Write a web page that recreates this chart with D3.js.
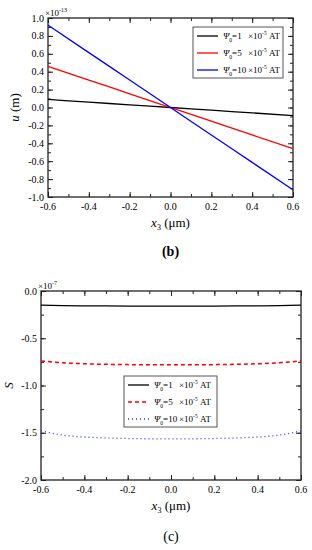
<!DOCTYPE html>
<html>
<head>
<meta charset="utf-8">
<script src="https://cdn.jsdelivr.net/npm/d3@7"></script>
<style>
  body { margin: 0; background: #fff; }
  text { font-family: "Liberation Serif", "Times New Roman", serif; fill: #000; }
</style>
</head>
<body>
<script>
var width = 312,
    height = 550;

// panel (b): displacement u (x 1e-13 m) vs x3 (um)
var xsB = [-0.6, -0.4, -0.2, 0.0, 0.2, 0.4, 0.6];
var u1 = [0.09, 0.06, 0.03, 0.0, -0.03, -0.06, -0.09];
var u5 = [0.46, 0.307, 0.153, 0.0, -0.153, -0.307, -0.46];
var u10 = [0.92, 0.613, 0.307, 0.0, -0.307, -0.613, -0.92];

// panel (c): S (x 1e-7) vs x3 (um)
var xsC = [-0.6, -0.5, -0.4, -0.3, -0.2, -0.1, 0.0, 0.1, 0.2, 0.3, 0.4, 0.5, 0.6];
var s1 = [-0.150, -0.155, -0.157, -0.158, -0.159, -0.159, -0.159, -0.159, -0.159, -0.158, -0.157, -0.155, -0.150];
var s5 = [-0.740, -0.760, -0.770, -0.776, -0.779, -0.781, -0.781, -0.781, -0.779, -0.776, -0.770, -0.760, -0.740];
var s10 = [-1.480, -1.525, -1.545, -1.555, -1.561, -1.564, -1.565, -1.564, -1.561, -1.555, -1.545, -1.525, -1.480];

var xTicks = [-0.6, -0.4, -0.2, 0.0, 0.2, 0.4, 0.6];
var yTicksB = [-1.0, -0.8, -0.6, -0.4, -0.2, 0.0, 0.2, 0.4, 0.6, 0.8, 1.0];
var yTicksC = [-2.0, -1.5, -1.0, -0.5, 0.0];
var legendVals = ["1", "5", "10"];

var svg = d3.select("body").append("svg")
    .attr("width", width)
    .attr("height", height);

function fmt(d) {
  return d3.format(".1f")(d).replace("−", "-");
}

function panel(opt) {
  var g = svg.append("g");
  var x = d3.scaleLinear().domain([-0.6, 0.6]).range([opt.left, opt.right]);
  var y = d3.scaleLinear().domain(opt.ydom).range([opt.bottom, opt.top]);

  // ticks, inward on all four sides
  var minorX = d3.range(-0.6, 0.601, 0.1);
  var minorY = d3.range(opt.ydom[0], opt.ydom[1] + 1e-6, opt.yminor);

  g.append("g").attr("transform", "translate(0," + opt.bottom + ")")
    .call(d3.axisBottom(x).tickValues(xTicks).tickSize(-5).tickFormat(""));
  g.append("g").attr("transform", "translate(0," + opt.bottom + ")")
    .call(d3.axisBottom(x).tickValues(minorX).tickSize(-3).tickFormat(""));
  g.append("g").attr("transform", "translate(0," + opt.top + ")")
    .call(d3.axisTop(x).tickValues(xTicks).tickSize(-5).tickFormat(""));
  g.append("g").attr("transform", "translate(0," + opt.top + ")")
    .call(d3.axisTop(x).tickValues(minorX).tickSize(-3).tickFormat(""));
  g.append("g").attr("transform", "translate(" + opt.left + ",0)")
    .call(d3.axisLeft(y).tickValues(opt.yticks).tickSize(-5).tickFormat(""));
  g.append("g").attr("transform", "translate(" + opt.left + ",0)")
    .call(d3.axisLeft(y).tickValues(minorY).tickSize(-3).tickFormat(""));
  g.append("g").attr("transform", "translate(" + opt.right + ",0)")
    .call(d3.axisRight(y).tickValues(opt.yticks).tickSize(-5).tickFormat(""));
  g.append("g").attr("transform", "translate(" + opt.right + ",0)")
    .call(d3.axisRight(y).tickValues(minorY).tickSize(-3).tickFormat(""));
  g.selectAll(".domain").remove();
  g.selectAll(".tick line").attr("stroke", "#222").attr("stroke-width", 1);

  // frame
  g.append("rect")
    .attr("x", opt.left).attr("y", opt.top)
    .attr("width", opt.right - opt.left).attr("height", opt.bottom - opt.top)
    .attr("fill", "none").attr("stroke", "#222").attr("stroke-width", 1.3);

  // tick labels
  g.selectAll("text.xl").data(xTicks).enter().append("text")
    .attr("x", d => x(d)).attr("y", opt.bottom + 13)
    .attr("text-anchor", "middle").attr("font-size", 10)
    .text(fmt);
  g.selectAll("text.yl").data(opt.yticks).enter().append("text")
    .attr("x", opt.left - 4).attr("y", d => y(d)).attr("dy", "0.35em")
    .attr("text-anchor", "end").attr("font-size", 10)
    .text(fmt);

  // multiplier
  var m = g.append("text").attr("x", opt.left - 3).attr("y", opt.top - 2).attr("font-size", 9);
  m.append("tspan").text("\u00d710");
  m.append("tspan").attr("font-size", 6).attr("dy", -4).text(opt.exp);

  // axis titles
  var xt = g.append("text").attr("x", x(0)).attr("y", opt.bottom + 30)
    .attr("text-anchor", "middle").attr("font-size", 13);
  xt.append("tspan").attr("font-style", "italic").text("x");
  xt.append("tspan").attr("font-size", 8).attr("dy", 3).text("3");
  xt.append("tspan").attr("dy", -3).text(" (\u03bcm)");

  var yt = g.append("text")
    .attr("transform", "translate(" + opt.ylabX + "," + ((opt.top + opt.bottom) / 2) + ") rotate(-90)")
    .attr("text-anchor", "middle").attr("font-size", 13);
  yt.append("tspan").attr("font-style", "italic").text(opt.ylab);
  if (opt.yunit) yt.append("tspan").text(opt.yunit);

  // panel tag
  svg.append("text").attr("x", x(0)).attr("y", opt.tagY)
    .attr("text-anchor", "middle").attr("font-size", 14)
    .attr("font-family", opt.tagFont)
    .attr("font-weight", opt.tagWeight)
    .text(opt.tag);

  // series
  var line = d3.line()
    .x(d => x(d[0]))
    .y(d => y(d[1]))
    .curve(d3.curveMonotoneX);
  opt.series.forEach(function(s) {
    g.append("path")
      .datum(opt.xs.map((v, i) => [v, s.values[i]]))
      .attr("d", line)
      .attr("fill", "none")
      .attr("stroke", s.color)
      .attr("stroke-width", s.width)
      .attr("stroke-dasharray", s.dash);
  });

  // legend
  var lg = g.append("g").attr("transform", "translate(" + opt.lx + "," + opt.ly + ")");
  lg.append("rect").attr("width", opt.lw).attr("height", 51)
    .attr("fill", "#fff").attr("stroke", "#555").attr("stroke-width", 1);
  opt.series.forEach(function(s, i) {
    var ry = 9 + i * 17;
    lg.append("line").attr("x1", 4).attr("x2", 25).attr("y1", ry).attr("y2", ry)
      .attr("stroke", s.color).attr("stroke-width", s.width)
      .attr("stroke-dasharray", s.dash);
    var t = lg.append("text").attr("x", 30).attr("y", ry).attr("dy", "0.35em")
      .attr("font-size", 9);
    t.append("tspan").attr("font-style", "italic").text("\u03a8");
    t.append("tspan").attr("font-size", 5.5).attr("dy", 3).text("0");
    t.append("tspan").attr("dy", -3).text("=" + legendVals[i]);
    t.append("tspan").attr("x", 55).text("\u00d710");
    t.append("tspan").attr("font-size", 5.5).attr("dy", -4).text("-5");
    t.append("tspan").attr("dy", 4).text(" AT");
  });
}

panel({
  left: 48, right: 293, top: 18, bottom: 197,
  ydom: [-1, 1], yticks: yTicksB, yminor: 0.1,
  exp: "-13", ylab: "u", yunit: " (m)", ylabX: 19,
  tag: "(b)", tagY: 256, tagFont: "Liberation Serif", tagWeight: "bold",
  xs: xsB,
  series: [
    {values: u1, color: "#000", width: 1.3, dash: null},
    {values: u5, color: "#f00", width: 1.3, dash: null},
    {values: u10, color: "#00f", width: 1.3, dash: null}
  ],
  lx: 193, ly: 27, lw: 90
});

panel({
  left: 41, right: 301, top: 291, bottom: 480,
  ydom: [-2, 0], yticks: yTicksC, yminor: 0.25,
  exp: "-7", ylab: "S", yunit: null, ylabX: 13,
  tag: "(c)", tagY: 541, tagFont: "Noto Sans", tagWeight: "normal",
  xs: xsC,
  series: [
    {values: s1, color: "#000", width: 1.3, dash: null},
    {values: s5, color: "#f00", width: 1.5, dash: "4,3"},
    {values: s10, color: "#33f", width: 1.3, dash: "1,3"}
  ],
  lx: 124, ly: 376, lw: 93
});
</script>
</body>
</html>
